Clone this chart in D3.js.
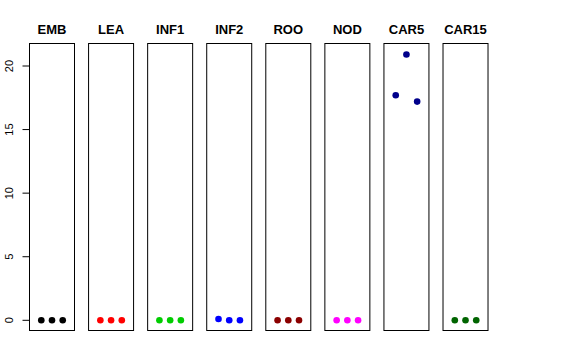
<html>
<head>
    <style>
        body { margin: 0; background: #fff; }
        text { font-family: "Liberation Sans", Arial, sans-serif; }
    </style>
    <script src="https://cdn.jsdelivr.net/npm/d3@7"></script>
</head>
<body>
    <svg id="chart" width="576" height="360"></svg>
    <script>
        var tissues = ["EMB", "LEA", "INF1", "INF2", "ROO", "NOD", "CAR5", "CAR15"];
        var colors = ["#000000", "#FF0000", "#00CD00", "#0000FF", "#8B0000", "#FF00FF", "#00008B", "#006400"];
        var reps = [1, 2, 3];
        var values = [
            [0, 0, 0],
            [0, 0, 0],
            [0, 0, 0],
            [0.1, 0, 0],
            [0, 0, 0],
            [0, 0, 0],
            [17.7, 20.9, 17.2],
            [0, 0, 0]
        ];
        var yTicks = [0, 5, 10, 15, 20];

        var svg = d3.select("#chart");

        var boxTop = 43.5, boxBottom = 330.5;
        var y = d3.scaleLinear().domain([0, 20]).range([320.3, 66]);

        // one panel per tissue
        var panel = d3.scaleBand().domain(tissues).range([29.5, 488.5]).paddingInner(0.23).paddingOuter(0);
        var x = d3.scaleLinear().domain([-0.1, 4.1]);

        tissues.forEach(function (t, i) {
            var g = svg.append("g").attr("transform", "translate(" + panel(t) + ",0)");
            var w = Math.round(panel.bandwidth());
            x.range([0, w]);

            g.append("rect")
                .attr("x", 0).attr("y", boxTop)
                .attr("width", w).attr("height", boxBottom - boxTop)
                .attr("fill", "none").attr("stroke", "#000").attr("stroke-width", 1);

            g.append("text")
                .attr("x", w / 2).attr("y", 34)
                .attr("text-anchor", "middle")
                .attr("font-size", 13).attr("font-weight", "bold")
                .text(t);

            g.selectAll("circle").data(values[i]).enter().append("circle")
                .attr("cx", function (d, j) { return x(reps[j]); })
                .attr("cy", function (d) { return y(d); })
                .attr("r", 3.3)
                .attr("fill", colors[i]);
        });

        var axis = svg.append("g").attr("transform", "translate(29.5,0)");
        axis.append("line")
            .attr("x1", 0).attr("x2", 0)
            .attr("y1", y(0)).attr("y2", y(20))
            .attr("stroke", "#000");
        axis.selectAll(".tick").data(yTicks).enter().append("line")
            .attr("x1", -7).attr("x2", 0)
            .attr("y1", function (d) { return y(d); })
            .attr("y2", function (d) { return y(d); })
            .attr("stroke", "#000");
        axis.selectAll(".lab").data(yTicks).enter().append("text")
            .attr("transform", function (d) { return "translate(-17," + y(d) + ") rotate(-90)"; })
            .attr("text-anchor", "middle")
            .attr("font-size", 11)
            .text(function (d) { return d; });
    </script>
</body>
</html>
